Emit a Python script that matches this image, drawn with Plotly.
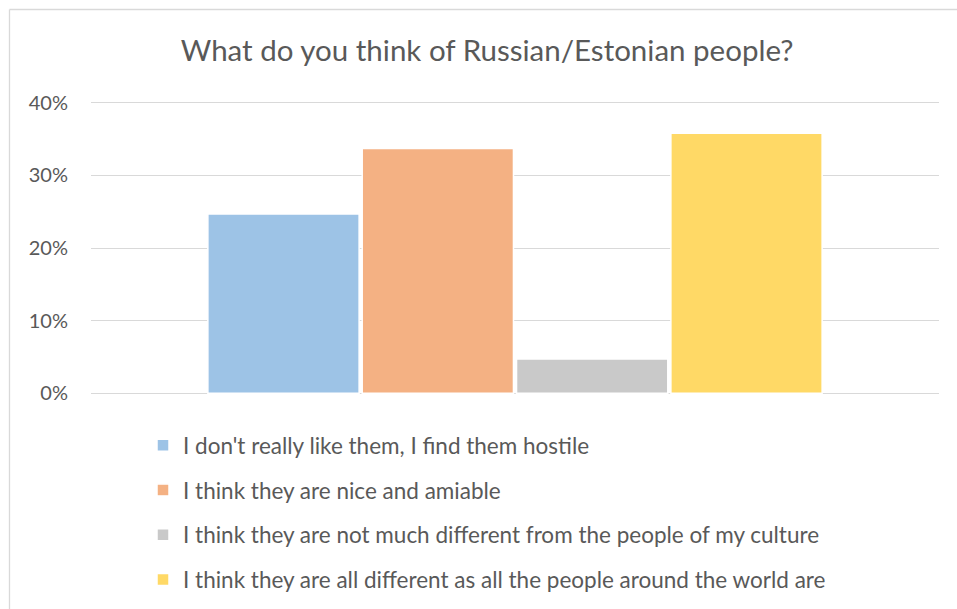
import plotly.graph_objects as go

# Survey answers and their share of respondents (%)
answers = [
    "I don't really like them, I find them hostile",
    "I think they are nice and amiable",
    "I think they are not much different from the people of my culture",
    "I think they are all different as all the people around the world are",
]
shares = [24.7, 33.7, 4.7, 35.8]
colors = ["#9DC3E6", "#F4B183", "#C9C9C9", "#FFD966"]
category = [""]
y_ticks = [0, 10, 20, 30, 40]
y_tick_labels = ["0%", "10%", "20%", "30%", "40%"]

W, H = 957, 609
L, R, T, B = 91, 18, 101, 214
plot_w = W - L - R
plot_h = H - T - B
# small padding so the 0% and 40% gridlines are drawn inside the plot area
y_range = [-0.25, 40.25]

fig = go.Figure()
for i, (name, val, col) in enumerate(zip(answers, shares, colors)):
    fig.add_trace(go.Bar(
        x=category, y=[val], name=name,
        marker=dict(color=col, line=dict(color="white", width=1.5)),
        legendgroup=f"g{i}",
        hoverinfo="name+y",
    ))

# light outer frame of the chart area
def px_x(px):
    return (px - L) / plot_w

def px_y(py):
    return (H - B - py) / plot_h

fig.add_shape(type="line", xref="paper", yref="paper",
              x0=px_x(9.5), x1=px_x(W + 5), y0=px_y(9.5), y1=px_y(9.5),
              line=dict(color="#D9D9D9", width=1.3), layer="below")
fig.add_shape(type="line", xref="paper", yref="paper",
              x0=px_x(9.5), x1=px_x(9.5), y0=px_y(9.5), y1=px_y(H + 5),
              line=dict(color="#D9D9D9", width=1.3), layer="below")

fig.update_layout(
    width=W, height=H,
    margin=dict(l=L, r=R, t=T, b=B, autoexpand=False),
    paper_bgcolor="white", plot_bgcolor="white",
    font=dict(family="Lato", color="#595959"),
    title=dict(text="What do you think of Russian/Estonian people?",
               x=0.509, xanchor="center", y=1 - 51 / H, yanchor="middle",
               font=dict(size=29.5, color="#595959")),
    barmode="group", bargap=0.272, bargroupgap=0.02,
    xaxis=dict(showticklabels=False, showgrid=False, zeroline=False,
               showline=False, ticks=""),
    yaxis=dict(range=y_range, tickvals=y_ticks, ticktext=y_tick_labels,
               showgrid=True, gridcolor="#D9D9D9", gridwidth=1.3,
               zeroline=False, showline=False, ticks="",
               tickfont=dict(size=20, color="#595959"), ticklabelstandoff=22),
    legend=dict(orientation="v", x=px_x(143), xanchor="left",
                y=px_y(424), yanchor="top",
                font=dict(size=22.5, color="#595959"),
                tracegroupgap=12.5, itemwidth=30,
                bgcolor="rgba(0,0,0,0)"),
    showlegend=True,
)

fig.write_html("out.html")
